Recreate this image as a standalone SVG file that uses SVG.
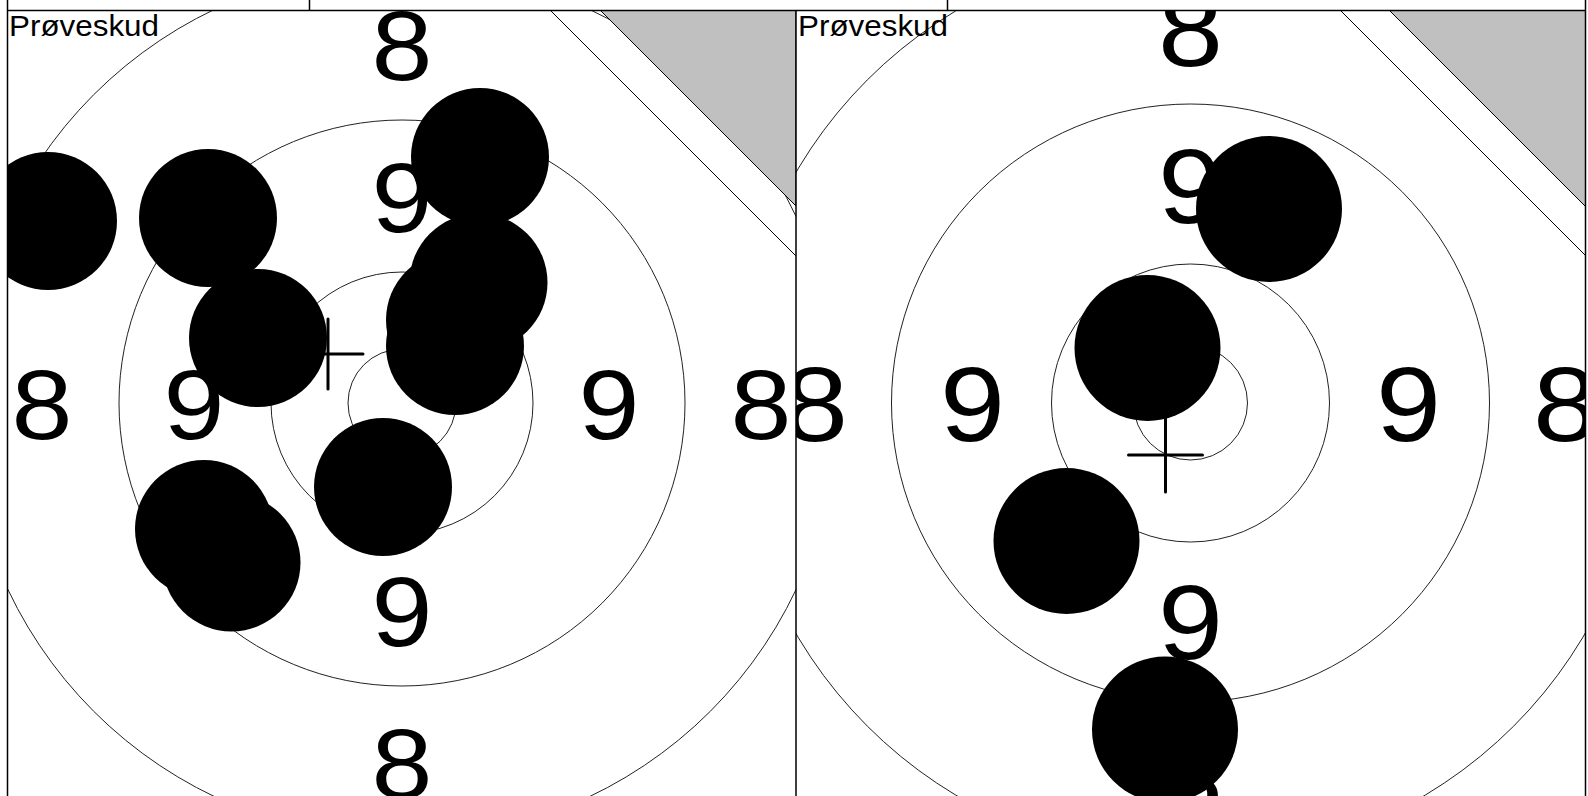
<svg xmlns="http://www.w3.org/2000/svg" width="1588" height="796" viewBox="0 0 1588 796">
<style>
.ring{fill:none;stroke:#222;stroke-width:1}
.num{font-family:"Liberation Sans",Arial,sans-serif;fill:#000;text-anchor:middle}
.n1{font-size:99px}
.n2{font-size:105px}
.shot{fill:#000}
.cross{stroke:#000;stroke-width:3;stroke-linecap:round;fill:none}
.border{stroke:#000;stroke-width:1.5;fill:none}
.tri{fill:#c0c0c0;stroke:#000;stroke-width:1}
.diag{stroke:#000;stroke-width:1;fill:none}
.lbl{font-family:"Liberation Sans",Arial,sans-serif;font-size:30px;fill:#000}
</style>
<defs>
<clipPath id="c1"><rect x="8" y="10" width="788" height="786"/></clipPath>
<clipPath id="c2"><rect x="796" y="10" width="789" height="786"/></clipPath>
</defs>
<rect width="1588" height="796" fill="#fff"/>
<g id="panel1" clip-path="url(#c1)">
<rect x="8" y="10" width="788" height="786" fill="#fff"/>
<circle class="ring" cx="402" cy="403" r="436"/>
<circle class="ring" cx="402" cy="403" r="283"/>
<circle class="ring" cx="402" cy="403" r="131"/>
<circle class="ring" cx="402" cy="403" r="54"/>
<line class="diag" x1="550" y1="10" x2="796" y2="256"/>
<polygon class="tri" points="600,10 796,10 796,206"/>
<text class="num n1" x="402" y="79.5" textLength="61" lengthAdjust="spacingAndGlyphs">8</text>
<text class="num n1" x="402" y="797.5" textLength="61" lengthAdjust="spacingAndGlyphs">8</text>
<text class="num n1" x="42" y="438.5" textLength="61" lengthAdjust="spacingAndGlyphs">8</text>
<text class="num n1" x="761" y="438.5" textLength="61" lengthAdjust="spacingAndGlyphs">8</text>
<text class="num n1" x="402" y="231.5" textLength="61" lengthAdjust="spacingAndGlyphs">9</text>
<text class="num n1" x="402" y="645.5" textLength="61" lengthAdjust="spacingAndGlyphs">9</text>
<text class="num n1" x="194" y="438.5" textLength="61" lengthAdjust="spacingAndGlyphs">9</text>
<text class="num n1" x="609" y="438.5" textLength="61" lengthAdjust="spacingAndGlyphs">9</text>
<path class="cross" d="M328 319V389M293 354H363"/>
<text class="lbl" x="9" y="36" textLength="150" lengthAdjust="spacingAndGlyphs">Prøveskud</text>
<g class="shot">
<circle cx="48" cy="221" r="69"/>
<circle cx="208" cy="218" r="69"/>
<circle cx="480" cy="157" r="69"/>
<circle cx="258" cy="338" r="69"/>
<circle cx="478.5" cy="282.5" r="69"/>
<circle cx="455" cy="320" r="69"/>
<circle cx="455" cy="346" r="69"/>
<circle cx="383" cy="487" r="69"/>
<circle cx="204" cy="529" r="69"/>
<circle cx="231.5" cy="562.5" r="69"/>
</g>
</g>
<g id="panel2" clip-path="url(#c2)">
<rect x="796" y="10" width="789" height="786" fill="#fff"/>
<circle class="ring" cx="1190.5" cy="403" r="457"/>
<circle class="ring" cx="1190.5" cy="403" r="299"/>
<circle class="ring" cx="1190.5" cy="403" r="139"/>
<circle class="ring" cx="1190.5" cy="403" r="57"/>
<line class="diag" x1="1340" y1="10" x2="1586" y2="256"/>
<polygon class="tri" points="1389,10 1586,10 1586,207"/>
<text class="num n2" x="1190.5" y="65.6" textLength="65" lengthAdjust="spacingAndGlyphs">8</text>
<text class="num n2" x="1190.5" y="815.6" textLength="65" lengthAdjust="spacingAndGlyphs">8</text>
<text class="num n2" x="815.5" y="440.6" textLength="65" lengthAdjust="spacingAndGlyphs">8</text>
<text class="num n2" x="1565.5" y="440.6" textLength="65" lengthAdjust="spacingAndGlyphs">8</text>
<text class="num n2" x="1190.5" y="222.6" textLength="65" lengthAdjust="spacingAndGlyphs">9</text>
<text class="num n2" x="1190.5" y="658.6" textLength="65" lengthAdjust="spacingAndGlyphs">9</text>
<text class="num n2" x="972.5" y="440.6" textLength="65" lengthAdjust="spacingAndGlyphs">9</text>
<text class="num n2" x="1408.5" y="440.6" textLength="65" lengthAdjust="spacingAndGlyphs">9</text>
<path class="cross" d="M1165.5 418V492M1128.5 455H1202.5"/>
<text class="lbl" x="798" y="36" textLength="150" lengthAdjust="spacingAndGlyphs">Prøveskud</text>
<g class="shot">
<circle cx="1269" cy="209" r="73"/>
<circle cx="1147.5" cy="348" r="73"/>
<circle cx="1066.5" cy="541" r="73"/>
<circle cx="1165" cy="729.5" r="73"/>
</g>
</g>
<g id="frame">
<path class="border" d="M7.5 0V796M1585.5 0V796M7.5 10.5H1585.5M796 10V796M309.5 0V10M947.5 0V10"/>
</g>
</svg>
